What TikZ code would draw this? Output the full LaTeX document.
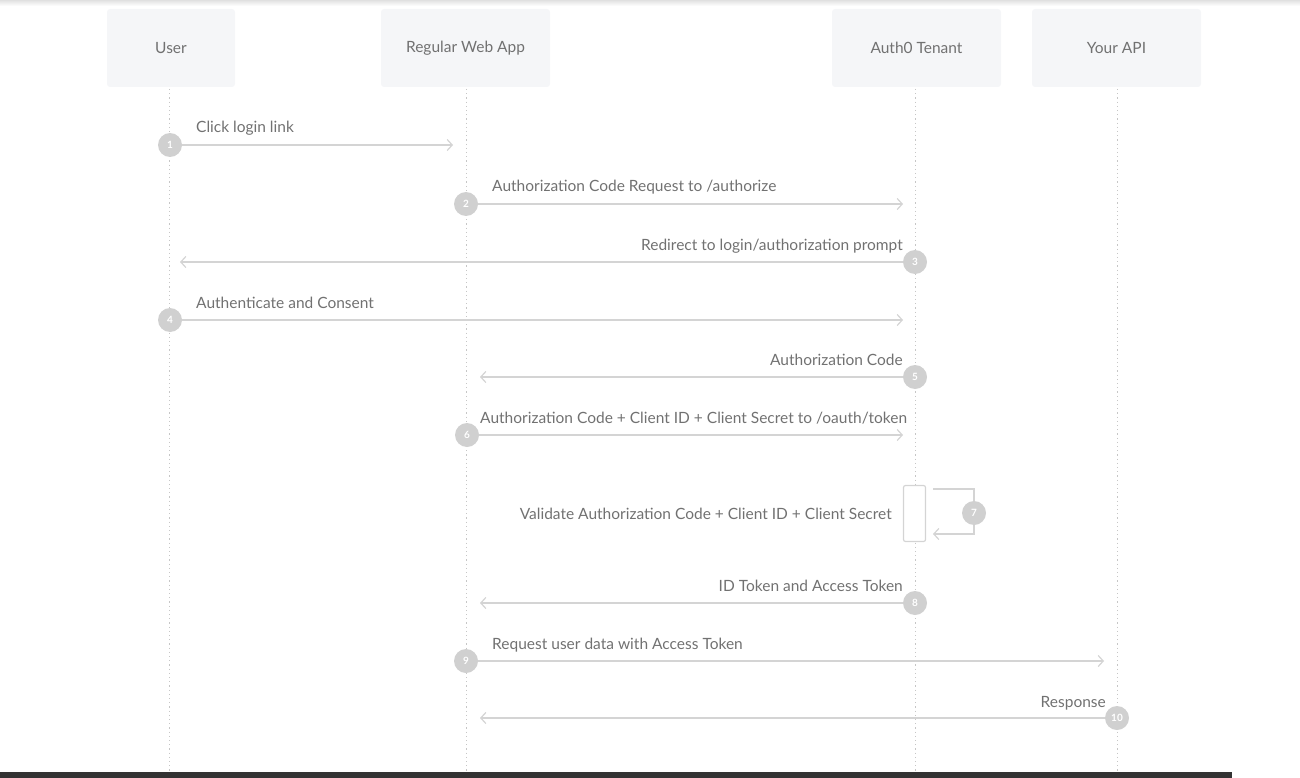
\documentclass[tikz,border=0pt]{standalone}
\usepackage{fontspec}
\setmainfont{Lato}
\usetikzlibrary{arrows.meta}
\definecolor{hdrfill}{HTML}{F5F6F8}
\definecolor{txt}{HTML}{717171}
\definecolor{ln}{HTML}{D4D4D4}
\definecolor{dotc}{HTML}{C6C6C6}
\definecolor{circ}{HTML}{D0D0D0}
\definecolor{barc}{HTML}{333333}
\begin{document}
\begin{tikzpicture}[x=1pt,y=-1pt,
  hdr/.style={fill=hdrfill, rounded corners=3pt, minimum height=78pt, text=txt, inner sep=0pt,
    font=\fontsize{15.5}{18}\selectfont},
  lifeline/.style={draw=dotc, line width=1pt, dash pattern=on 1.2pt off 3pt},
  msg/.style={draw=ln, line width=1.4pt, -{Straight Barb[length=5pt,width=11pt,line width=1.2pt]}},
  num/.style={circle, fill=circ, text=white, minimum size=24pt, inner sep=0pt,
    font=\fontsize{10}{12}\selectfont\bfseries},
  lbl/.style={text=txt, inner sep=0pt, font=\fontsize{15.5}{18}\selectfont},
  act/.style={draw=ln, line width=1.2pt, fill=white, rounded corners=2pt, minimum width=22pt, minimum height=56pt, inner sep=0pt}
]
\useasboundingbox (0,0) rectangle (1300,778);
\shade[top color=black!12, bottom color=white] (0,0) rectangle (1300,6);
% headers
\node[hdr, minimum width=128pt] (user) at (171,48) {User};
\node[hdr, minimum width=169pt] (app) at (465.5,48) {Regular Web App};
\node[hdr, minimum width=169pt] (auth) at (916.5,48) {Auth0 Tenant};
\node[hdr, minimum width=169pt] (api) at (1116.5,48) {Your API};
% lifeline ends
\coordinate (bu) at (169,772);
\coordinate (ba) at (466,772);
\coordinate (bt) at (915,772);
\coordinate (bi) at (1117,772);
\coordinate (tu) at (169,89);
\coordinate (ta) at (466,89);
\coordinate (tt) at (915,89);
\coordinate (ti) at (1117,89);
\draw[lifeline] (tu) -- (bu);
\draw[lifeline] (ta) -- (ba);
\draw[lifeline] (tt) -- (bt);
\draw[lifeline] (ti) -- (bi);
% 1
\node[num] (n1) at (170,145) {1};
\coordinate (e1) at (453,145);
\draw[msg] (n1) -- (e1);
\node[lbl, anchor=base west] (l1) at (196,133) {Click login link};
% 2
\node[num] (n2) at (466,204) {2};
\coordinate (e2) at (903,204);
\draw[msg] (n2) -- (e2);
\node[lbl, anchor=base west] (l2) at (492,192) {Authorization Code Request to /authorize};
% 3
\node[num] (n3) at (915,262) {3};
\coordinate (e3) at (180,262);
\draw[msg] (n3) -- (e3);
\node[lbl, anchor=base east] (l3) at (903,250) {Redirect to login/authorization prompt};
% 4
\node[num] (n4) at (170,320) {4};
\coordinate (e4) at (903,320);
\draw[msg] (n4) -- (e4);
\node[lbl, anchor=base west] (l4) at (196,308) {Authenticate and Consent};
% 5
\node[num] (n5) at (915,377) {5};
\coordinate (e5) at (480,377);
\draw[msg] (n5) -- (e5);
\node[lbl, anchor=base east] (l5) at (903,365) {Authorization Code};
% 6
\node[num] (n6) at (467,435) {6};
\coordinate (e6) at (903,435);
\draw[msg] (n6) -- (e6);
\node[lbl, anchor=base west] (l6) at (480,423) {Authorization Code + Client ID + Client Secret to /oauth/token};
% 7
\node[act] (a7) at (914.5,513.5) {};
\coordinate (s1) at (933,489);
\coordinate (s2) at (974,489);
\coordinate (s3) at (974,534);
\coordinate (s4) at (933,534);
\draw[msg] (s1) -- (s2) -- (s3) -- (s4);
\node[num] (n7) at (974,513) {7};
\node[lbl, anchor=base east] (l7) at (892,519) {Validate Authorization Code + Client ID + Client Secret};
% 8
\node[num] (n8) at (915,603) {8};
\coordinate (e8) at (480,603);
\draw[msg] (n8) -- (e8);
\node[lbl, anchor=base east] (l8) at (903,591) {ID Token and Access Token};
% 9
\node[num] (n9) at (466,661) {9};
\coordinate (e9) at (1104,661);
\draw[msg] (n9) -- (e9);
\node[lbl, anchor=base west] (l9) at (492,649) {Request user data with Access Token};
% 10
\node[num] (n10) at (1117,718) {10};
\coordinate (e10) at (480,718);
\draw[msg] (n10) -- (e10);
\node[lbl, anchor=base east] (l10) at (1106,707) {Response};
% bottom bar
\fill[barc] (0,772) rectangle (1232,778);
\end{tikzpicture}
\end{document}
